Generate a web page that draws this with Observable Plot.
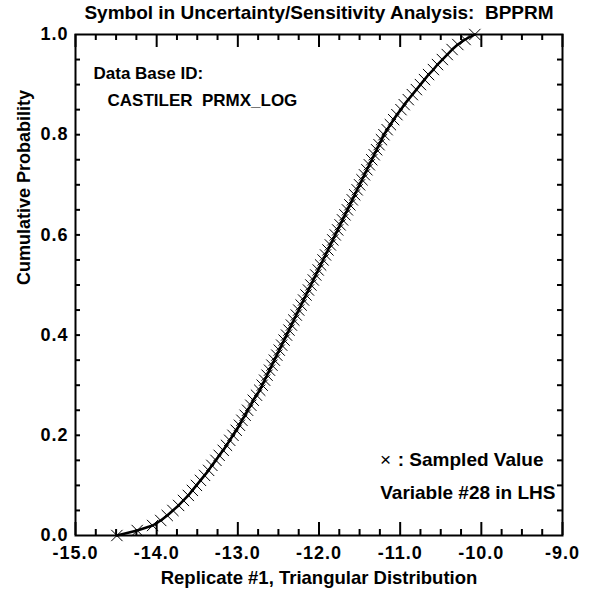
<!DOCTYPE html>
<html>
<head>
<meta charset="utf-8">
<script src="https://cdn.jsdelivr.net/npm/d3@7"></script>
<script src="https://cdn.jsdelivr.net/npm/@observablehq/plot@0.6"></script>
<style>
  html, body { margin: 0; padding: 0; background: #fff; }
  #chart svg { display: block; }
  #chart g[aria-label="x-axis tick label"] text,
  #chart g[aria-label="y-axis tick label"] text { letter-spacing: 1px; }
</style>
</head>
<body>
<div id="chart"></div>
<script>
const sampledValues = [
  -14.49, -14.24, -14.05, -13.95, -13.87, -13.80, -13.73, -13.67, -13.61, -13.56,
  -13.51, -13.46, -13.41, -13.36, -13.32, -13.27, -13.23, -13.18, -13.14, -13.10,
  -13.06, -13.02, -12.98, -12.95, -12.91, -12.88, -12.84, -12.81, -12.77, -12.73,
  -12.70, -12.67, -12.64, -12.61, -12.58, -12.55, -12.52, -12.49, -12.46, -12.43,
  -12.40, -12.37, -12.34, -12.31, -12.28, -12.25, -12.22, -12.19, -12.16, -12.13,
  -12.10, -12.07, -12.04, -12.01, -11.98, -11.95, -11.92, -11.89, -11.86, -11.83,
  -11.80, -11.77, -11.74, -11.71, -11.68, -11.65, -11.62, -11.59, -11.56, -11.53,
  -11.50, -11.47, -11.44, -11.41, -11.38, -11.35, -11.32, -11.29, -11.26, -11.23,
  -11.20, -11.16, -11.12, -11.08, -11.04, -10.99, -10.95, -10.90, -10.85, -10.80,
  -10.75, -10.70, -10.65, -10.59, -10.54, -10.48, -10.42, -10.36, -10.29, -10.20,
  -10.08
];
// Cumulative probabilities
const cumulativeProb = [
  0.00, 0.01, 0.02, 0.03, 0.04, 0.05, 0.06, 0.07, 0.08, 0.09,
  0.10, 0.11, 0.12, 0.13, 0.14, 0.15, 0.16, 0.17, 0.18, 0.19,
  0.20, 0.21, 0.22, 0.23, 0.24, 0.25, 0.26, 0.27, 0.28, 0.29,
  0.30, 0.31, 0.32, 0.33, 0.34, 0.35, 0.36, 0.37, 0.38, 0.39,
  0.40, 0.41, 0.42, 0.43, 0.44, 0.45, 0.46, 0.47, 0.48, 0.49,
  0.50, 0.51, 0.52, 0.53, 0.54, 0.55, 0.56, 0.57, 0.58, 0.59,
  0.60, 0.61, 0.62, 0.63, 0.64, 0.65, 0.66, 0.67, 0.68, 0.69,
  0.70, 0.71, 0.72, 0.73, 0.74, 0.75, 0.76, 0.77, 0.78, 0.79,
  0.80, 0.81, 0.82, 0.83, 0.84, 0.85, 0.86, 0.87, 0.88, 0.89,
  0.90, 0.91, 0.92, 0.93, 0.94, 0.95, 0.96, 0.97, 0.98, 0.99,
  1.00
];
const xMajorTicks = [-15, -14, -13, -12, -11, -10, -9];
const xMinorTicks = [-14.75, -14.5, -14.25, -13.75, -13.5, -13.25, -12.75, -12.5, -12.25,
  -11.75, -11.5, -11.25, -10.75, -10.5, -10.25, -9.75, -9.5, -9.25];
const yMajorTicks = [0, 0.2, 0.4, 0.6, 0.8, 1.0];
const yMinorTicks = [0.05, 0.1, 0.15, 0.2, 0.25, 0.3, 0.35, 0.4, 0.45, 0.5, 0.55, 0.6,
  0.65, 0.7, 0.75, 0.8, 0.85, 0.9, 0.95];

const titleText = "Symbol in Uncertainty/Sensitivity Analysis:  BPPRM";
const xLabel = "Replicate #1, Triangular Distribution";
const yLabel = "Cumulative Probability";
const dbLine1 = "Data Base ID:";
const dbLine2 = "CASTILER  PRMX_LOG";
const legendText = ": Sampled Value";
const varText = "Variable #28 in LHS";

const data = sampledValues.map((x, i) => ({x, y: cumulativeProb[i]}));

const W = 593, H = 598;
const mL = 75, mR = 31, mT = 34, mB = 63;
const fw = W - mL - mR, fh = H - mT - mB;
const tickStyle = {stroke: "#000", strokeWidth: 2};

const chart = Plot.plot({
  width: W, height: H,
  marginLeft: mL, marginRight: mR, marginTop: mT, marginBottom: mB,
  x: {domain: [-15, -9]},
  y: {domain: [0, 1]},
  style: {fontFamily: "'Liberation Sans', Arial, sans-serif", fontWeight: "bold", color: "#000", background: "#fff"},
  marks: [
    // inward ticks on all four sides
    Plot.tickX(xMajorTicks, {x: d => d, insetTop: fh - 13, ...tickStyle}),
    Plot.tickX(xMajorTicks, {x: d => d, insetBottom: fh - 13, ...tickStyle}),
    Plot.tickX(xMinorTicks, {x: d => d, insetTop: fh - 6, ...tickStyle}),
    Plot.tickX(xMinorTicks, {x: d => d, insetBottom: fh - 6, ...tickStyle}),
    Plot.tickY(yMinorTicks, {y: d => d, insetRight: fw - 5, ...tickStyle}),
    Plot.tickY(yMinorTicks, {y: d => d, insetLeft: fw - 5, ...tickStyle}),
    Plot.frame({stroke: "#000", fill: "none", strokeWidth: 2}),
    Plot.axisX({ticks: xMajorTicks, anchor: "bottom", tickSize: 0, tickPadding: 11, fontSize: 18, tickFormat: d => d.toFixed(1), label: null}),
    Plot.axisY({ticks: yMajorTicks, anchor: "left", tickSize: 0, tickPadding: 7, fontSize: 18, tickFormat: d => d.toFixed(1), label: null}),
    Plot.line(data, {x: "x", y: "y", stroke: "#000", strokeWidth: 2.5}),
    Plot.dot(data, {x: "x", y: "y", symbol: "times", r: 5.2, stroke: "#000", strokeWidth: 1}),
    // title and axis labels
    Plot.text([titleText], {text: d => d, frameAnchor: "top", dy: -22, fontSize: 19, lineAnchor: "middle"}),
    Plot.text([xLabel], {text: d => d, frameAnchor: "bottom", dy: 43, fontSize: 18.5, lineAnchor: "middle"}),
    Plot.text([yLabel], {text: d => d, frameAnchor: "left", dx: -51, rotate: -90, fontSize: 18, lineAnchor: "middle"}),
    // annotations
    Plot.text([dbLine1], {text: d => d, frameAnchor: "top-left", dx: 18, dy: 39, fontSize: 17, textAnchor: "start", lineAnchor: "middle"}),
    Plot.text([dbLine2], {text: d => d, frameAnchor: "top-left", dx: 32, dy: 66, fontSize: 17, textAnchor: "start", lineAnchor: "middle"}),
    Plot.text(["×"], {text: d => d, frameAnchor: "bottom-right", dx: -177, dy: -76, fontSize: 19, fontWeight: "normal", textAnchor: "middle", lineAnchor: "middle"}),
    Plot.text([legendText], {text: d => d, frameAnchor: "bottom-right", dx: -19, dy: -76, fontSize: 19, textAnchor: "end", lineAnchor: "middle"}),
    Plot.text([varText], {text: d => d, frameAnchor: "bottom-right", dx: -7, dy: -43, fontSize: 19, textAnchor: "end", lineAnchor: "middle"})
  ]
});
document.getElementById("chart").appendChild(chart);
</script>
</body>
</html>
